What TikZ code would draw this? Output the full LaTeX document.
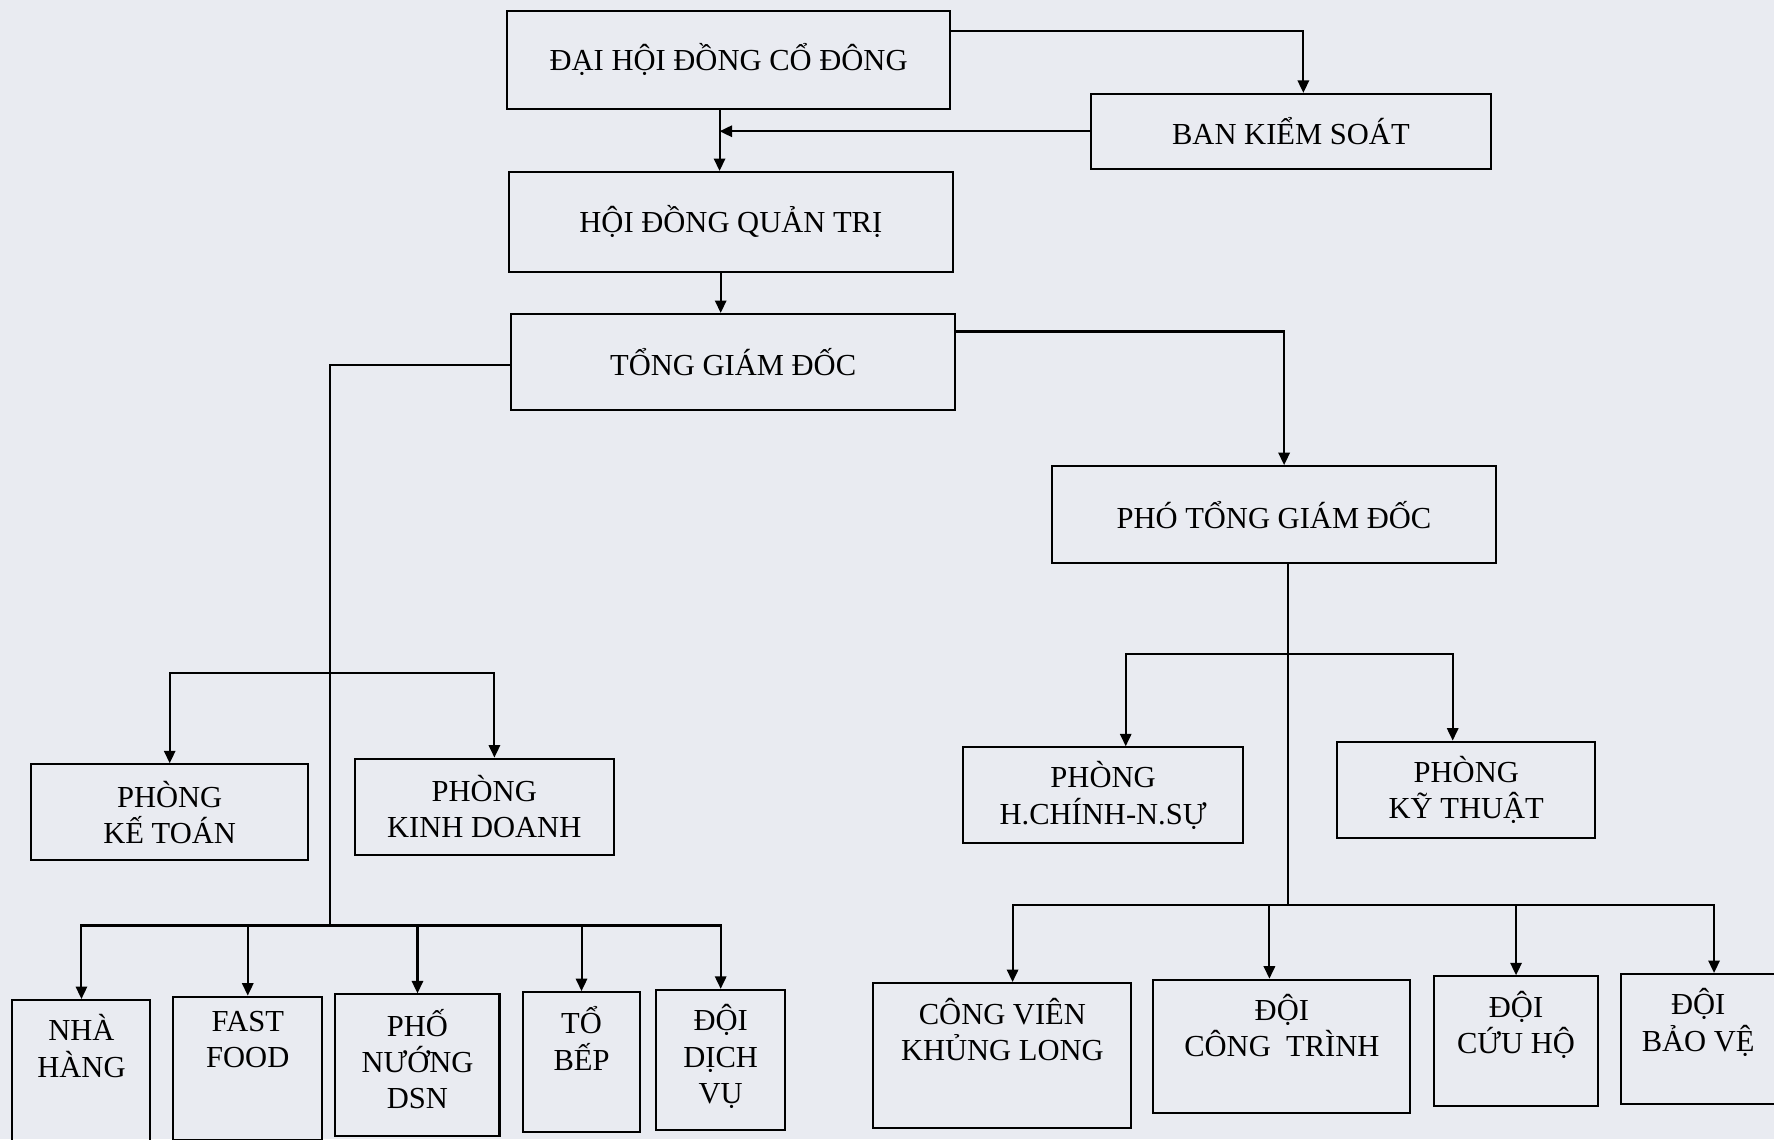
\documentclass[tikz,border=0pt]{standalone}
\usepackage{fontspec}
\setmainfont{Liberation Serif}
\usetikzlibrary{arrows.meta}

\begin{document}
\begin{tikzpicture}[%
    x=1pt, y=-1pt,                          % Work in pixel-like units, top-down
    >={Triangle[length=11pt,width=10pt]},   % Small solid arrow heads
    line width=1.8pt,
    every join/.style={norm},
    ]
% -------------------------------------------------
% Box and line styles
\tikzset{
  base/.style={draw, inner sep=0pt, align=center, font=\fontsize{27}{32}\selectfont},
  head/.style={base, minimum width=392pt, minimum height=86pt},
  dept/.style={base, minimum height=85pt},
  team/.style={draw, inner sep=0pt, anchor=north},
  tag/.style={inner sep=0pt, anchor=north, align=center, font=\fontsize{27}{32}\selectfont},
  norm/.style={->, draw},
}
\definecolor{paper}{RGB}{233,235,241}
\fill [paper] (0,0) rectangle (1568,1007);
\useasboundingbox (0,0) rectangle (1568,1007);
% -------------------------------------------------
% Top of the chart
\node [head] (dhdcd) at (644,53) {ĐẠI HỘI ĐỒNG CỔ ĐÔNG};
\node [base, minimum width=353pt, minimum height=66pt] (bks) at (1141,116) {BAN KIỂM SOÁT};
\node [head, minimum height=88pt] (hdqt) at (646,196) {HỘI ĐỒNG QUẢN TRỊ};
\node [head, minimum height=85pt] (tgd) at (648,320) {TỔNG GIÁM ĐỐC};
\node [head] (ptgd) at (1126,455) {PHÓ TỔNG GIÁM ĐỐC};

% Departments
\node [dept, minimum width=245pt] (pkt) at (150,718) {PHÒNG\\KẾ TOÁN};
\node [dept, minimum width=229pt] (pkd) at (428,713) {PHÒNG\\KINH DOANH};
\node [dept, minimum width=248pt] (phc) at (975,703) {PHÒNG\\H.CHÍNH-N.SỰ};
\node [dept, minimum width=228pt] (pkth) at (1296,698) {PHÒNG\\KỸ THUẬT};

% Units at the bottom: name / centre x / top y / width / height / text
\foreach \name/\x/\y/\w/\h/\txt in {%
    nh/72/883/122/130/{NHÀ\\HÀNG},
    ff/219/880/132/127/{FAST\\FOOD},
    pn/369/878/145/125/{PHỐ\\NƯỚNG\\DSN},
    tb/514/876/104/124/{TỔ\\BẾP},
    dv/637/874/114/124/{ĐỘI\\DỊCH\\VỤ},
    cv/886/868/228/128/{CÔNG VIÊN\\KHỦNG LONG},
    ct/1133/865/227/118/{ĐỘI\\CÔNG~~TRÌNH},
    ch/1340/862/145/115/{ĐỘI\\CỨU HỘ},
    bv/1501/860/137/115/{ĐỘI\\BẢO VỆ}} {
  \node [team, minimum width=\w pt, minimum height=\h pt] (\name) at (\x,\y) {};
  \node [tag] (\name-t) at ([yshift=-13pt]\name.north) {\txt};
}

% -------------------------------------------------
% Connectors
\draw [norm] ([yshift=26pt]dhdcd.east) -| ([xshift=11pt]bks.north);
\coordinate (a1) at ([xshift=-8pt]dhdcd.south);
\draw [norm] (a1) -- (a1 |- hdqt.north);
\draw [norm] (bks.west) -- (bks.west -| a1);
\coordinate (a2) at ([xshift=-9pt]hdqt.south);
\draw [norm] (a2) -- (a2 |- tgd.north);
\draw [norm] ([yshift=27pt]tgd.east) -| ([xshift=9pt]ptgd.north);

% left branch
\coordinate (lbar) at (292,595);
\coordinate (lbus) at (292,818);
\draw ([yshift=-3pt]tgd.west) -| (lbus);
\draw [norm] (lbar) -| (pkt.north);
\draw [norm] (lbar) -| ([xshift=9pt]pkd.north);
\foreach \t in {nh,ff,pn,tb,dv}
  \draw [norm] (lbus) -| (\t.north);

% right branch
\coordinate (r0) at ([xshift=12pt]ptgd.south);
\coordinate (rbar) at (r0 |- 0,578);
\coordinate (rbus) at (r0 |- 0,800);
\draw (r0) -- (rbus);
\draw [norm] (rbar) -| ([xshift=20pt]phc.north);
\draw [norm] (rbar) -| ([xshift=-12pt]pkth.north);
\draw [norm] (rbus) -| ([xshift=9pt]cv.north);
\draw [norm] (rbus) -| ([xshift=-11pt]ct.north);
\draw [norm] (rbus) -| (ch.north);
\draw [norm] (rbus) -| ([xshift=14pt]bv.north);
% -------------------------------------------------
\end{tikzpicture}
\end{document}
